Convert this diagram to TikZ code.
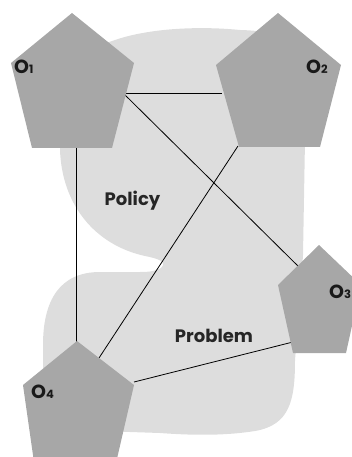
\documentclass[tikz,border=0pt]{standalone}
\usepackage{fontspec}
\setmainfont{Poppins}
\definecolor{pentgray}{RGB}{167,167,167}
\definecolor{blobgray}{RGB}{221,221,221}
\newcommand\subdig[1]{{\fontsize{11.5}{11.5}\selectfont #1}}
\begin{document}
\begin{tikzpicture}[x=1pt,y=-1pt,
  penta/.style={fill=pentgray,draw=none},
  blob/.style={fill=blobgray,draw=none},
  conn/.style={draw=black,line width=0.8pt},
  olabel/.style={font=\bfseries\fontsize{19}{19}\selectfont,anchor=base west,inner sep=0pt,text=black!90},
  area/.style={font=\bfseries\fontsize{18}{18}\selectfont,anchor=base,inner sep=0pt,text=black!85}]
\useasboundingbox (0,0) rectangle (352,457);
\clip (0,0) rectangle (352,457);
% background regions
\path[blob] (60,60) -- (60,150)
  .. controls (62,205) and (95,245) .. (145,256)
  .. controls (160,259) and (167,262) .. (161,268)
  .. controls (156,271) and (150,272) .. (140,272)
  -- (100,272)
  .. controls (60,272) and (43,300) .. (43,345)
  -- (43,380)
  .. controls (43,420) and (70,430) .. (130,432)
  -- (160,433)
  .. controls (200,436) and (230,435) .. (255,431)
  .. controls (290,425) and (295,400) .. (295,360)
  -- (300,300) -- (303,255) -- (305,140) -- (305,80)
  .. controls (305,40) and (280,31) .. (240,30)
  .. controls (200,26) and (150,28) .. (115,40)
  .. controls (80,52) and (60,60) .. cycle;
% connector end points
\coordinate (o1r) at (123,93);
\coordinate (o1b) at (76,146);
\coordinate (o1s) at (123,93);
\coordinate (o2l) at (222,93);
\coordinate (o2b) at (238,146);
\coordinate (o3u) at (301,269);
\coordinate (o3l) at (293,342);
\coordinate (o4t) at (76,344);
\coordinate (o4u) at (99,358);
\coordinate (o4r) at (134,382);
% connectors
\draw[conn] (o1r) -- (o2l);
\draw[conn] (o1s) -- (o3u);
\draw[conn] (o1b) -- (o4t);
\draw[conn] (o2b) -- (o4u);
\draw[conn] (o4r) -- (o3l);
% pentagons
\path[penta] (72,13) -- (134,63) -- (112,148) -- (32,148) -- (11,63) -- cycle;
\path[penta] (278,13) -- (341,65) -- (320,147) -- (239,147) -- (216,65) -- cycle;
\path[penta] (319,245) -- (361,285) -- (346,353) -- (293,353) -- (278,285) -- cycle;
\path[penta] (77,341) -- (134,385) -- (113,476) -- (36,476) -- (23,385) -- cycle;
% labels
\node[olabel] (l1) at (14,73.5) {O\subdig{1}};
\node[olabel] (l2) at (306,73.5) {O\subdig{2}};
\node[olabel] (l3) at (329,298.5) {O\subdig{3}};
\node[olabel] (l4) at (31,398.5) {O\subdig{4}};
\node[area] (policy) at (132.5,205) {Policy};
\node[area] (problem) at (214,342) {Problem};
\end{tikzpicture}
\end{document}
